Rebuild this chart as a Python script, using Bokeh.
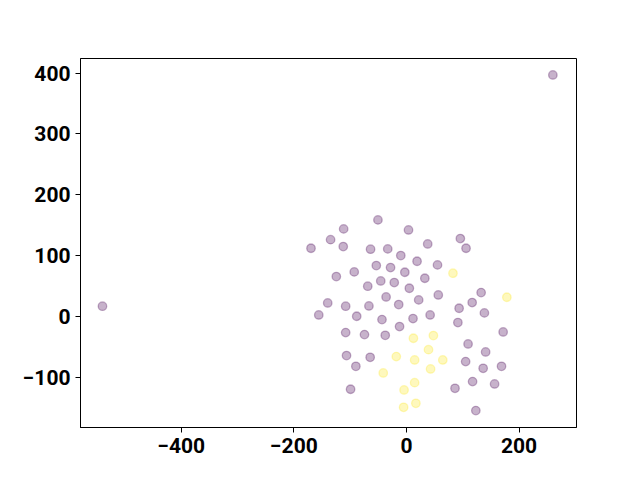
from bokeh.plotting import figure
from bokeh.models import FixedTicker, Range1d
from bokeh.embed import file_html
from bokeh.resources import INLINE

# class 0 (purple) points
x0 = [260, -540, -50.7, 3.6, -111.6, -134.8, -112.3, -169.6, -63.8, -33.3,
      95.7, 105.8, 37.7, -10.1, 18.8, 55.1, -53.6, -28.3, -2.9, -92.8,
      -124.6, 32.6, -45.7, -21.7, -68.8, 5.1, -36.2, 56.5, 132.6, 21.7,
      116.7, -139.9, -13.8, -66.7, -108, 93.5, 138.4, -155.8, -88.4, 42,
      11.6, -43.5, 91.3, -12.3, 171.7, -108, -74.6, -37.7, 109.4, 140.6,
      -106.5, -64.5, -89.9, 105.1, 136.2, 168.8, 117.4, 156.5, 86.2, -99.3,
      123.2]
y0 = [397, 16.5, 158.5, 142, 143.7, 126, 114.6, 111.9, 110.3, 110.8,
      127.8, 111.9, 119, 99.8, 90.5, 84.5, 83.4, 80.1, 72.4, 73,
      65.3, 62.5, 58.1, 55.4, 49.4, 46.1, 31.8, 35.1, 38.9, 26.9,
      22.5, 21.9, 19.2, 17, 16.5, 13.2, 5.5, 2.2, 0, 2.2,
      -3.8, -5.5, -10.4, -17, -25.8, -26.9, -30.2, -31.3, -45.5, -58.7,
      -64.7, -67.5, -82.3, -74.6, -85.6, -82.3, -107.5, -111.4, -118.5, -120.1,
      -155.2]

# class 1 (yellow) points
x1 = [82.6, 178.3, 12.3, 47.8, 39.1, -18.1, 14.5, 64.5, -41.3, 42.8,
      14.5, -4.3, 16.7, -5.1]
y1 = [70.8, 31.3, -36.2, -31.8, -54.9, -66.4, -71.9, -71.9, -93.3, -86.7,
      -109.2, -121.2, -143.2, -149.8]

x_ticks = [-400, -200, 0, 200]
x_tick_labels = ["\u2212400", "\u2212200", "0", "200"]
y_ticks = [-100, 0, 100, 200, 300, 400]
y_tick_labels = ["\u2212100", "0", "100", "200", "300", "400"]

p = figure(frame_width=496, frame_height=369, output_backend="svg",
           toolbar_location=None,
           x_range=Range1d(-579, 302), y_range=Range1d(-183, 424),
           min_border_left=80, min_border_right=56,
           min_border_top=58, min_border_bottom=45)

p.scatter(x0, y0, size=8.5, fill_color="#440154", fill_alpha=0.3,
          line_color="#440154", line_alpha=0.3, line_width=1.3)
p.scatter(x1, y1, size=8.5, fill_color="#fde725", fill_alpha=0.3,
          line_color="#fde725", line_alpha=0.3, line_width=1.3)

p.xgrid.visible = False
p.ygrid.visible = False
p.outline_line_color = "black"
p.outline_line_width = 1
p.outline_line_alpha = 1
p.background_fill_color = "white"
p.border_fill_color = "white"

p.xaxis.ticker = FixedTicker(ticks=x_ticks)
p.yaxis.ticker = FixedTicker(ticks=y_ticks)
p.xaxis.major_label_overrides = dict(zip(x_ticks, x_tick_labels))
p.yaxis.major_label_overrides = dict(zip(y_ticks, y_tick_labels))

for ax in (p.xaxis, p.yaxis):
    ax.axis_line_color = "black"
    ax.major_tick_line_color = "black"
    ax.major_tick_out = 5
    ax.major_tick_in = 0
    ax.minor_tick_line_color = None
    ax.major_label_text_font = "Roboto"
    ax.major_label_text_font_style = "bold"
    ax.major_label_text_font_size = "21px"
    ax.major_label_text_color = "black"
    ax.major_label_standoff = 5

open("out.html", "w").write(file_html(p, INLINE))
